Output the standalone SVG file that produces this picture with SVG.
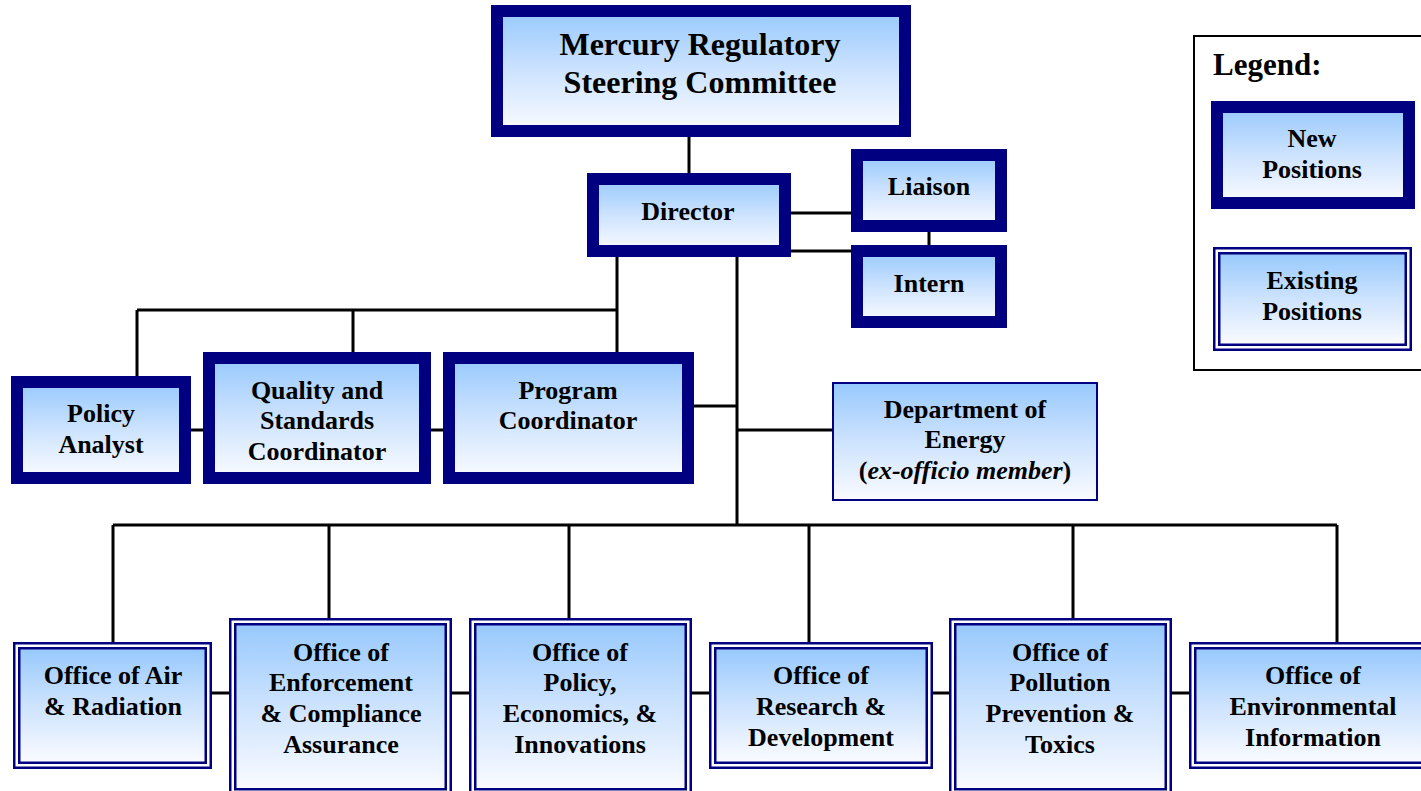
<svg xmlns="http://www.w3.org/2000/svg" width="1421" height="791" viewBox="0 0 1421 791">
<defs>
<linearGradient id="g" x1="0" y1="0" x2="0" y2="1">
<stop offset="0" stop-color="#97C9FD"/>
<stop offset="0.5" stop-color="#CDE3FE"/>
<stop offset="1" stop-color="#FAFBFF"/>
</linearGradient>
</defs>
<style>
.new{fill:url(#g);stroke:#000080;stroke-width:12}
.exo{fill:#fff;stroke:#000080;stroke-width:2.5}
.exi{fill:url(#g);stroke:#000080;stroke-width:2.5}
.thin{fill:url(#g);stroke:#000080;stroke-width:2}
.t{font-family:"Liberation Serif","Times New Roman",serif;font-weight:bold;font-size:26px;fill:#000;text-anchor:middle}
.big{font-size:32px}
.lg{font-size:31px;text-anchor:start}
.c{fill:none;stroke:#000;stroke-width:3}
.leg{fill:none;stroke:#000;stroke-width:2}
</style>
<g id="connectors">
<path class="c" d="M689 137V173"/>
<path class="c" d="M786 213H857M786 251H857M929 232V245"/>
<path class="c" d="M617 257V352M137 310H617M137 310V377M353 310V352"/>
<path class="c" d="M190 430H203M431 430H443"/>
<path class="c" d="M737 257V525M694 406H737M737 430H832"/>
<path class="c" d="M113 525H1337M113 525V642M329 525V618M569 525V618M809 525V642M1073 525V618M1337 525V642"/>
<path class="c" d="M212 693H229M452 693H469M692 693H709M933 693H949M1172 693H1189"/>
</g>
<g id="steering">
<rect class="new" x="497" y="11" width="408" height="120"/>
<text class="t big"><tspan x="700" y="55">Mercury Regulatory</tspan><tspan x="700" y="93">Steering Committee</tspan></text>
</g>
<g id="director">
<rect class="new" x="593" y="179" width="192" height="72"/>
<text class="t" x="688" y="220">Director</text>
</g>
<g id="liaison">
<rect class="new" x="857" y="155" width="144" height="71"/>
<text class="t" x="929" y="195">Liaison</text>
</g>
<g id="intern">
<rect class="new" x="857" y="251" width="144" height="71"/>
<text class="t" x="929" y="292">Intern</text>
</g>
<g id="policy-analyst">
<rect class="new" x="17" y="382" width="168" height="96"/>
<text class="t"><tspan x="101" y="422">Policy</tspan><tspan x="101" y="453">Analyst</tspan></text>
</g>
<g id="quality-standards">
<rect class="new" x="209" y="358" width="216" height="120"/>
<text class="t"><tspan x="317" y="399">Quality and</tspan><tspan x="317" y="429">Standards</tspan><tspan x="317" y="460">Coordinator</tspan></text>
</g>
<g id="program-coordinator">
<rect class="new" x="449" y="358" width="239" height="120"/>
<text class="t"><tspan x="568" y="399">Program</tspan><tspan x="568" y="429">Coordinator</tspan></text>
</g>
<g id="doe">
<rect class="thin" x="833" y="383" width="264" height="117"/>
<text class="t"><tspan x="965" y="418">Department of</tspan><tspan x="965" y="448">Energy</tspan><tspan x="965" y="479">(<tspan font-style="italic">ex-officio member</tspan>)</tspan></text>
</g>
<g id="legend">
<rect class="leg" x="1194" y="36" width="240" height="334"/>
<text class="t lg" x="1213" y="75">Legend:</text>
<rect class="new" x="1217" y="107" width="192" height="96"/>
<text class="t"><tspan x="1312" y="147">New</tspan><tspan x="1312" y="178">Positions</tspan></text>
<rect class="exo" x="1214.25" y="248.25" width="196.5" height="101.5"/>
<rect class="exi" x="1219.25" y="253.25" width="186.5" height="91.5"/>
<text class="t"><tspan x="1312" y="289">Existing</tspan><tspan x="1312" y="320">Positions</tspan></text>
</g>
<g id="office-air">
<rect class="exo" x="14.25" y="643.25" width="196.5" height="124.5"/>
<rect class="exi" x="19.25" y="648.25" width="186.5" height="114.5"/>
<text class="t"><tspan x="113" y="684">Office of Air</tspan><tspan x="113" y="715">&amp; Radiation</tspan></text>
</g>
<g id="office-enforcement">
<rect class="exo" x="230.25" y="619.25" width="220.5" height="175"/>
<rect class="exi" x="235.25" y="624.25" width="210.5" height="165"/>
<text class="t"><tspan x="341" y="661">Office of</tspan><tspan x="341" y="691">Enforcement</tspan><tspan x="341" y="722">&amp; Compliance</tspan><tspan x="341" y="753">Assurance</tspan></text>
</g>
<g id="office-policy">
<rect class="exo" x="470.25" y="619.25" width="220.5" height="175"/>
<rect class="exi" x="475.25" y="624.25" width="210.5" height="165"/>
<text class="t"><tspan x="580" y="661">Office of</tspan><tspan x="580" y="691">Policy,</tspan><tspan x="580" y="722">Economics, &amp;</tspan><tspan x="580" y="753">Innovations</tspan></text>
</g>
<g id="office-research">
<rect class="exo" x="710.25" y="643.25" width="221.5" height="124.5"/>
<rect class="exi" x="715.25" y="648.25" width="211.5" height="114.5"/>
<text class="t"><tspan x="821" y="684">Office of</tspan><tspan x="821" y="715">Research &amp;</tspan><tspan x="821" y="746">Development</tspan></text>
</g>
<g id="office-pollution">
<rect class="exo" x="950.25" y="619.25" width="220.5" height="175"/>
<rect class="exi" x="955.25" y="624.25" width="210.5" height="165"/>
<text class="t"><tspan x="1060" y="661">Office of</tspan><tspan x="1060" y="691">Pollution</tspan><tspan x="1060" y="722">Prevention &amp;</tspan><tspan x="1060" y="753">Toxics</tspan></text>
</g>
<g id="office-environmental">
<rect class="exo" x="1190.25" y="643.25" width="245.5" height="124.5"/>
<rect class="exi" x="1195.25" y="648.25" width="235.5" height="114.5"/>
<text class="t"><tspan x="1313" y="684">Office of</tspan><tspan x="1313" y="715">Environmental</tspan><tspan x="1313" y="746">Information</tspan></text>
</g>
</svg>
